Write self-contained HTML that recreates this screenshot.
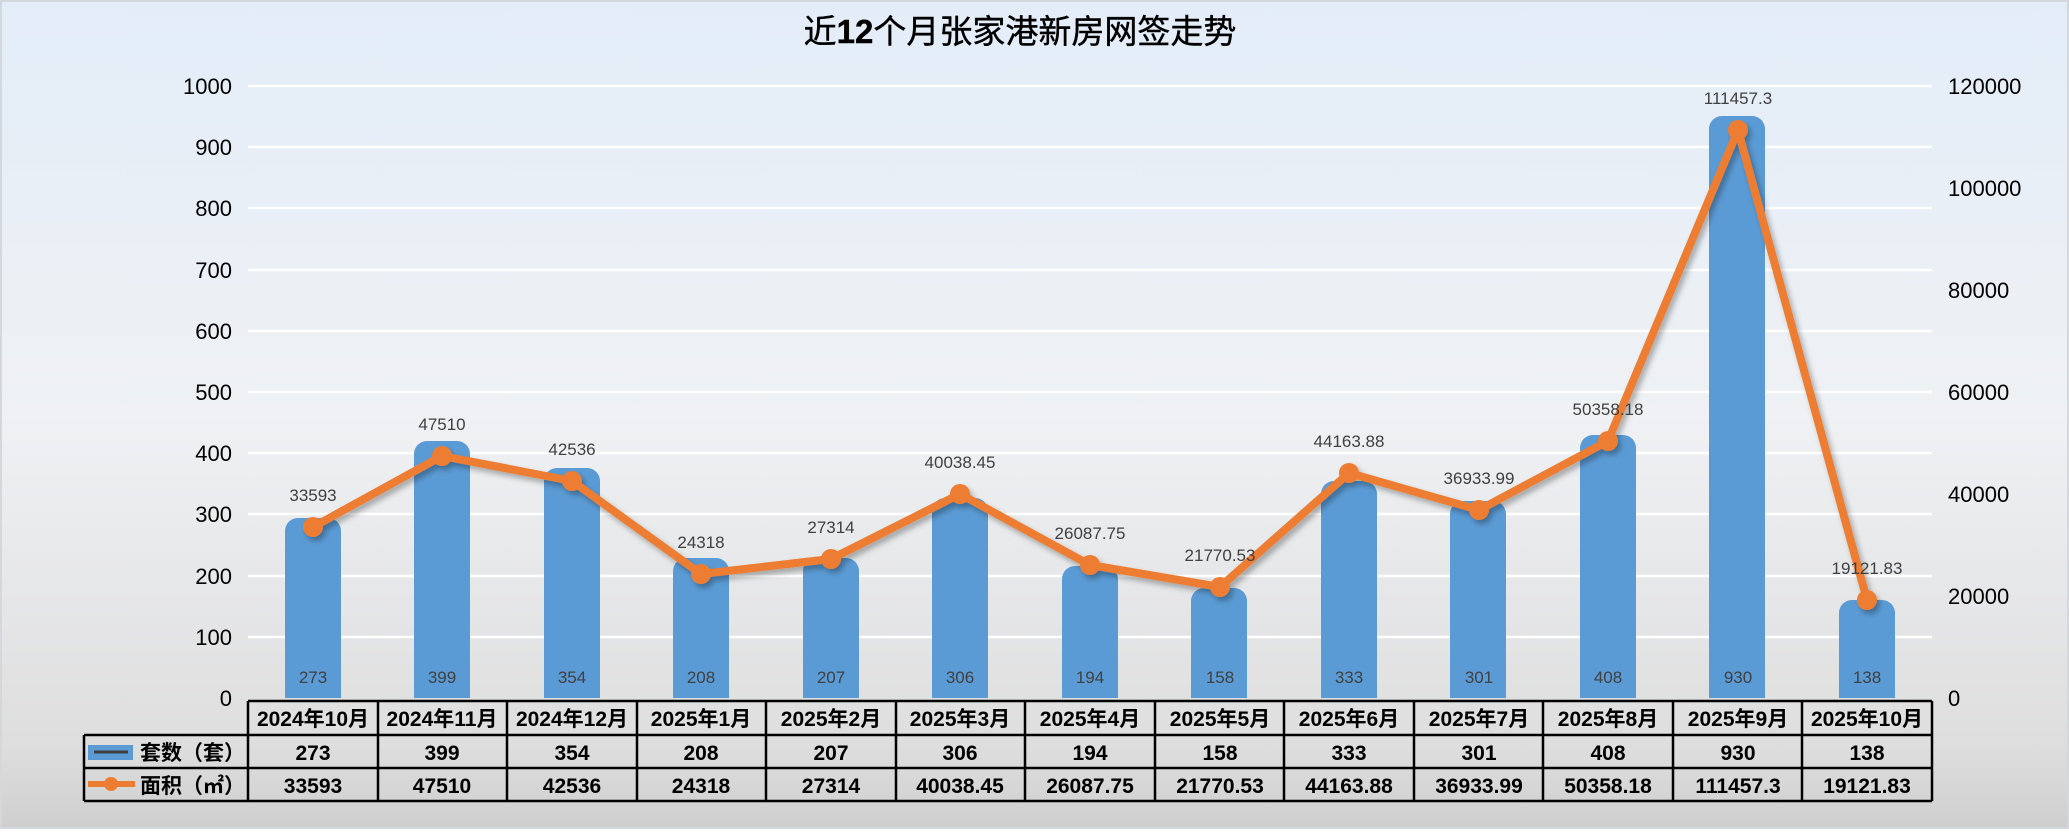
<!DOCTYPE html>
<html><head><meta charset="utf-8"><style>
html,body{margin:0;padding:0;}
body{width:2069px;height:829px;overflow:hidden;}
svg text{font-family:"Liberation Sans","Noto Sans CJK SC",sans-serif;}
</style></head><body>
<svg width="2069" height="829" viewBox="0 0 2069 829" xmlns="http://www.w3.org/2000/svg">
<defs>
<linearGradient id="bg" x1="0" y1="0" x2="0" y2="1">
<stop offset="0" stop-color="#e3edf8"/><stop offset="0.5" stop-color="#eff1f4"/><stop offset="0.9" stop-color="#dedede"/><stop offset="1" stop-color="#cfcfcf"/>
</linearGradient>
<filter id="sh" x="-5%" y="-5%" width="110%" height="120%"><feDropShadow dx="3" dy="4" stdDeviation="3" flood-color="#000" flood-opacity="0.3"/></filter>
</defs>
<rect x="0" y="0" width="2069" height="829" fill="#d4d7dc"/>
<rect x="2" y="2" width="2065" height="825" fill="url(#bg)"/>
<text x="1020" y="43" font-size="33" text-anchor="middle" fill="#000" stroke="#000" stroke-width="0.4">近<tspan font-weight="bold">12</tspan>个月张家港新房网签走势</text>
<g stroke="#ffffff" stroke-width="2.5">
<line x1="248" y1="86" x2="1932" y2="86"/><line x1="248" y1="147" x2="1932" y2="147"/><line x1="248" y1="208" x2="1932" y2="208"/><line x1="248" y1="270" x2="1932" y2="270"/><line x1="248" y1="331" x2="1932" y2="331"/><line x1="248" y1="392" x2="1932" y2="392"/><line x1="248" y1="453" x2="1932" y2="453"/><line x1="248" y1="514" x2="1932" y2="514"/><line x1="248" y1="576" x2="1932" y2="576"/><line x1="248" y1="637" x2="1932" y2="637"/>
</g>
<g font-size="22" fill="#000" text-anchor="end">
<text x="232" y="94">1000</text><text x="232" y="155">900</text><text x="232" y="216">800</text><text x="232" y="278">700</text><text x="232" y="339">600</text><text x="232" y="400">500</text><text x="232" y="461">400</text><text x="232" y="522">300</text><text x="232" y="584">200</text><text x="232" y="645">100</text><text x="232" y="706">0</text>
</g>
<g font-size="22" fill="#000" text-anchor="start">
<text x="1948" y="94">120000</text><text x="1948" y="196">100000</text><text x="1948" y="298">80000</text><text x="1948" y="400">60000</text><text x="1948" y="502">40000</text><text x="1948" y="604">20000</text><text x="1948" y="706">0</text>
</g>
<g fill="#5b9bd5">
<path d="M285,698 V531 a13,13 0 0 1 13,-13 h30 a13,13 0 0 1 13,13 V698Z"/>
<path d="M414,698 V454 a13,13 0 0 1 13,-13 h30 a13,13 0 0 1 13,13 V698Z"/>
<path d="M544,698 V481 a13,13 0 0 1 13,-13 h30 a13,13 0 0 1 13,13 V698Z"/>
<path d="M673,698 V571 a13,13 0 0 1 13,-13 h30 a13,13 0 0 1 13,13 V698Z"/>
<path d="M803,698 V571 a13,13 0 0 1 13,-13 h30 a13,13 0 0 1 13,13 V698Z"/>
<path d="M932,698 V511 a13,13 0 0 1 13,-13 h30 a13,13 0 0 1 13,13 V698Z"/>
<path d="M1062,698 V579 a13,13 0 0 1 13,-13 h30 a13,13 0 0 1 13,13 V698Z"/>
<path d="M1191,698 V601 a13,13 0 0 1 13,-13 h30 a13,13 0 0 1 13,13 V698Z"/>
<path d="M1321,698 V494 a13,13 0 0 1 13,-13 h30 a13,13 0 0 1 13,13 V698Z"/>
<path d="M1450,698 V514 a13,13 0 0 1 13,-13 h30 a13,13 0 0 1 13,13 V698Z"/>
<path d="M1580,698 V448 a13,13 0 0 1 13,-13 h30 a13,13 0 0 1 13,13 V698Z"/>
<path d="M1709,698 V129 a13,13 0 0 1 13,-13 h30 a13,13 0 0 1 13,13 V698Z"/>
<path d="M1839,698 V613 a13,13 0 0 1 13,-13 h30 a13,13 0 0 1 13,13 V698Z"/>
</g>
<g font-size="17" fill="#404040" text-anchor="middle">
<text x="313" y="683">273</text><text x="442" y="683">399</text><text x="572" y="683">354</text><text x="701" y="683">208</text><text x="831" y="683">207</text><text x="960" y="683">306</text><text x="1090" y="683">194</text><text x="1220" y="683">158</text><text x="1349" y="683">333</text><text x="1479" y="683">301</text><text x="1608" y="683">408</text><text x="1738" y="683">930</text><text x="1867" y="683">138</text>
</g>
<g filter="url(#sh)">
<polyline fill="none" stroke="#ed7d31" stroke-width="8" stroke-linejoin="round" points="313,527 442,456 572,481 701,574 831,559 960,494 1090,565 1220,587 1349,473 1479,510 1608,441 1738,130 1867,600"/>
<g fill="#ed7d31">
<circle cx="313" cy="527" r="10"/><circle cx="442" cy="456" r="10"/><circle cx="572" cy="481" r="10"/><circle cx="701" cy="574" r="10"/><circle cx="831" cy="559" r="10"/><circle cx="960" cy="494" r="10"/><circle cx="1090" cy="565" r="10"/><circle cx="1220" cy="587" r="10"/><circle cx="1349" cy="473" r="10"/><circle cx="1479" cy="510" r="10"/><circle cx="1608" cy="441" r="10"/><circle cx="1738" cy="130" r="10"/><circle cx="1867" cy="600" r="10"/>
</g>
</g>
<g font-size="17" fill="#404040" text-anchor="middle">
<text x="313" y="501">33593</text><text x="442" y="430">47510</text><text x="572" y="455">42536</text><text x="701" y="548">24318</text><text x="831" y="533">27314</text><text x="960" y="468">40038.45</text><text x="1090" y="539">26087.75</text><text x="1220" y="561">21770.53</text><text x="1349" y="447">44163.88</text><text x="1479" y="484">36933.99</text><text x="1608" y="415">50358.18</text><text x="1738" y="104">111457.3</text><text x="1867" y="574">19121.83</text>
</g>
<g stroke="#000" stroke-width="2.5" fill="none">
<line x1="248" y1="701" x2="1932" y2="701"/>
<line x1="84" y1="735" x2="1932" y2="735"/>
<line x1="84" y1="768" x2="1932" y2="768"/>
<line x1="84" y1="801" x2="1932" y2="801"/>
<line x1="84" y1="735" x2="84" y2="801"/>
<line x1="248" y1="701" x2="248" y2="801"/><line x1="378" y1="701" x2="378" y2="801"/><line x1="507" y1="701" x2="507" y2="801"/><line x1="637" y1="701" x2="637" y2="801"/><line x1="766" y1="701" x2="766" y2="801"/><line x1="896" y1="701" x2="896" y2="801"/><line x1="1025" y1="701" x2="1025" y2="801"/><line x1="1155" y1="701" x2="1155" y2="801"/><line x1="1284" y1="701" x2="1284" y2="801"/><line x1="1414" y1="701" x2="1414" y2="801"/><line x1="1543" y1="701" x2="1543" y2="801"/><line x1="1673" y1="701" x2="1673" y2="801"/><line x1="1802" y1="701" x2="1802" y2="801"/><line x1="1932" y1="701" x2="1932" y2="801"/>
</g>
<rect x="88" y="745" width="45" height="15" fill="#5b9bd5"/>
<line x1="94" y1="752" x2="128" y2="752" stroke="#404040" stroke-width="3"/>
<line x1="88" y1="784" x2="135" y2="784" stroke="#ed7d31" stroke-width="6"/>
<circle cx="111" cy="784" r="7" fill="#ed7d31"/>
<g font-size="21" font-weight="bold" fill="#000">
<text x="140" y="760">套数（套）</text><text x="140" y="793">面积（㎡）</text>
</g>
<g font-size="21" font-weight="bold" fill="#000" text-anchor="middle">
<text x="313" y="726">2024年10月</text><text x="442" y="726">2024年11月</text><text x="572" y="726">2024年12月</text><text x="701" y="726">2025年1月</text><text x="831" y="726">2025年2月</text><text x="960" y="726">2025年3月</text><text x="1090" y="726">2025年4月</text><text x="1220" y="726">2025年5月</text><text x="1349" y="726">2025年6月</text><text x="1479" y="726">2025年7月</text><text x="1608" y="726">2025年8月</text><text x="1738" y="726">2025年9月</text><text x="1867" y="726">2025年10月</text>
<text x="313" y="760">273</text><text x="442" y="760">399</text><text x="572" y="760">354</text><text x="701" y="760">208</text><text x="831" y="760">207</text><text x="960" y="760">306</text><text x="1090" y="760">194</text><text x="1220" y="760">158</text><text x="1349" y="760">333</text><text x="1479" y="760">301</text><text x="1608" y="760">408</text><text x="1738" y="760">930</text><text x="1867" y="760">138</text>
<text x="313" y="793">33593</text><text x="442" y="793">47510</text><text x="572" y="793">42536</text><text x="701" y="793">24318</text><text x="831" y="793">27314</text><text x="960" y="793">40038.45</text><text x="1090" y="793">26087.75</text><text x="1220" y="793">21770.53</text><text x="1349" y="793">44163.88</text><text x="1479" y="793">36933.99</text><text x="1608" y="793">50358.18</text><text x="1738" y="793">111457.3</text><text x="1867" y="793">19121.83</text>
</g>
</svg>
</body></html>
